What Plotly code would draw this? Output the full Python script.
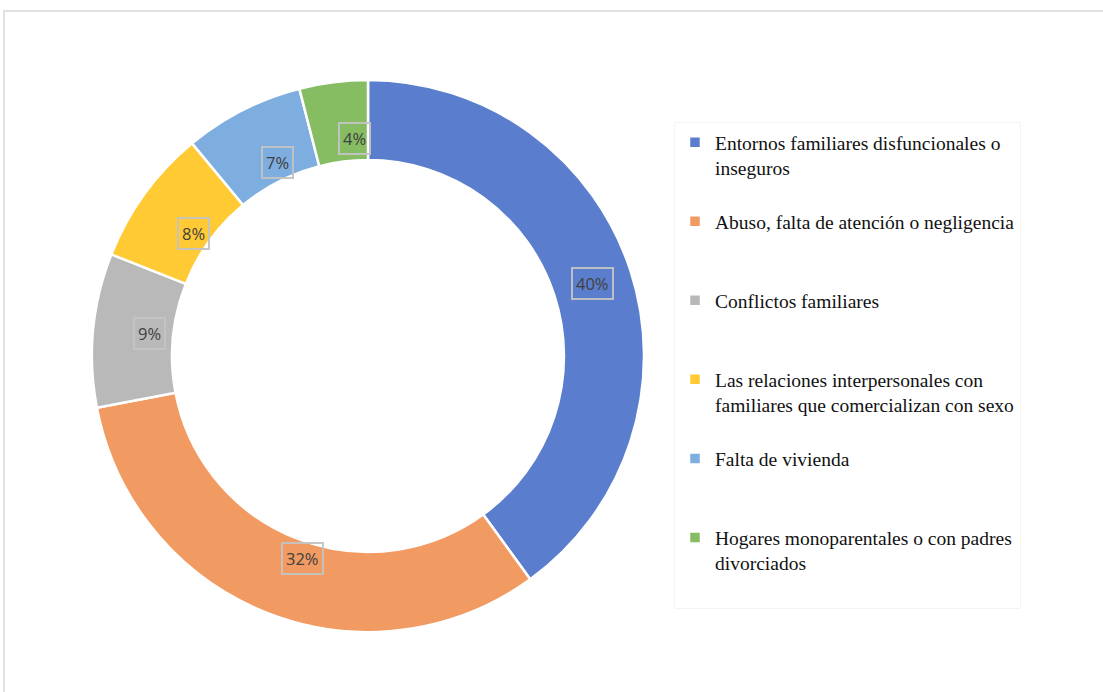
import numpy as np
import plotly.graph_objects as go

categories = [
    "Entornos familiares disfuncionales o<br>inseguros",
    "Abuso, falta de atención o negligencia",
    "Conflictos familiares",
    "Las relaciones interpersonales con<br>familiares que comercializan con sexo",
    "Falta de vivienda",
    "Hogares monoparentales o con padres<br>divorciados",
]
values = [40, 32, 9, 8, 7, 4]
colors = ["#5A7ECD", "#F19A62", "#B9B9B9", "#FFCA33", "#7EADDF", "#86BD62"]

W, H = 1103, 692
cx, cy, R = 368, 356, 276
hole = 0.71

# pad labels to 3 lines so each legend entry has equal height
legend_labels = []
for c in categories:
    n = c.count("<br>") + 1
    legend_labels.append(c + "<br> " * (3 - n))

fig = go.Figure()
fig.add_trace(go.Pie(
    labels=legend_labels,
    values=values,
    hole=hole,
    sort=False,
    direction="clockwise",
    rotation=0,
    textinfo="none",
    hoverinfo="label+percent",
    marker=dict(colors=colors, line=dict(color="white", width=2.5)),
    domain=dict(x=[(cx - R) / W, (cx + R) / W], y=[(H - cy - R) / H, (H - cy + R) / H]),
))

# label annotations at slice mid-angles
vals = np.array(values, dtype=float)
frac = vals / vals.sum()
ends = np.cumsum(frac) * 360
mids = ends - frac * 180
rm = R * (1 + hole) / 2
annotations = []
for v, a in zip(values, mids):
    t = np.deg2rad(a)
    px = cx + rm * np.sin(t)
    py = cy - rm * np.cos(t)
    annotations.append(dict(
        x=px / W, y=1 - py / H, xref="paper", yref="paper",
        text=f"{v}%", showarrow=False,
        font=dict(family="Open Sans", size=16.5, color="#404040"),
        bordercolor="rgba(195,195,195,0.95)", borderwidth=2, borderpad=3,
    ))

fig.update_layout(
    width=W, height=H,
    margin=dict(l=0, r=0, t=0, b=0),
    paper_bgcolor="white",
    plot_bgcolor="white",
    showlegend=True,
    legend=dict(
        x=674 / W, y=1 - 122 / H, xanchor="left", yanchor="top",
        font=dict(family="Liberation Serif", size=19.5, color="#111111"),
        valign="top",
        bgcolor="white", bordercolor="#f4f4f4", borderwidth=1,
        tracegroupgap=0,
    ),
    annotations=annotations,
    shapes=[dict(type="rect", xref="paper", yref="paper",
                 x0=4 / W, x1=1.05, y0=-0.05, y1=1 - 11 / H,
                 line=dict(color="#d9d9d9", width=1.5))],
)

fig.write_html("out.html", config={"displayModeBar": False},
               post_script="document.body.style.margin='0';")
